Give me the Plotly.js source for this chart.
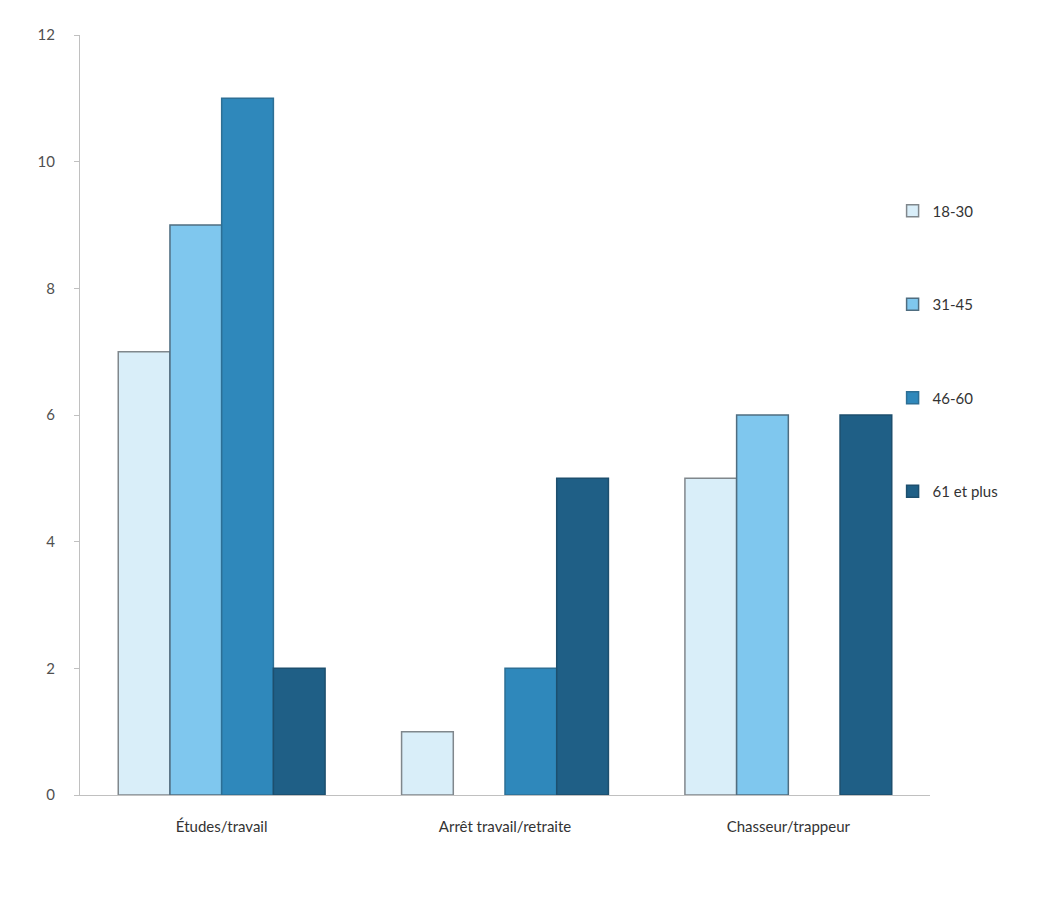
<!DOCTYPE html>
<html>
<head>
<meta charset="utf-8">
<script src="https://cdn.plot.ly/plotly-3.0.1.min.js"></script>
<style>html,body{margin:0;padding:0;background:#fff;}#chart{width:1038px;height:905px;}</style>
</head>
<body>
<div id="chart"></div>
<script>
const categories = ["Études/travail", "Arrêt travail/retraite", "Chasseur/trappeur"];
const seriesNames = ["18-30", "31-45", "46-60", "61 et plus"];
const v18_30 = [7, 1, 5];
const v31_45 = [9, 0, 6];
const v46_60 = [11, 2, 0];
const v61plus = [2, 5, 6];
const yTicks = [0, 2, 4, 6, 8, 10, 12];

const colors = ["#d9eef9", "#7fc7ee", "#2f88bb", "#1f5f86"];
const lineColors = ["#80878c", "#4f6d80", "#2d6f95", "#1d4f6e"];
const values = [v18_30, v31_45, v46_60, v61plus];

const traces = values.map((v, i) => ({
  type: "bar",
  name: seriesNames[i],
  x: categories,
  y: v,
  legendgroup: "g" + i,
  marker: {color: colors[i], line: {color: lineColors[i], width: v.map(d => d === 0 ? 0 : 1.5)}},
  hoverinfo: "x+y+name"
}));

const layout = {
  width: 1038, height: 905,
  margin: {l: 80, r: 108, t: 35, b: 110},
  paper_bgcolor: "#ffffff",
  plot_bgcolor: "#ffffff",
  font: {family: "Lato, 'Open Sans', sans-serif", size: 15, color: "#404040"},
  barmode: "group",
  bargap: 0.27,
  bargroupgap: 0,
  showlegend: true,
  legend: {
    x: 0.956, xanchor: "left", y: 0.79, yanchor: "top",
    bgcolor: "rgba(0,0,0,0)",
    tracegroupgap: 71,
    itemwidth: 30,
    font: {size: 15, color: "#333333"}
  },
  xaxis: {
    type: "category",
    showline: true, linecolor: "#c0c0c0", linewidth: 1,
    ticks: "", showgrid: false, zeroline: false,
    ticklabelstandoff: 18,
    tickfont: {size: 15, color: "#333333"}
  },
  yaxis: {
    range: [0, 12],
    tickvals: yTicks,
    showline: true, linecolor: "#c0c0c0", linewidth: 1,
    ticks: "outside", ticklen: 5, tickcolor: "#c0c0c0",
    ticklabelstandoff: 16,
    showgrid: false, zeroline: false,
    tickfont: {size: 15, color: "#505050"}
  }
};

Plotly.newPlot("chart", traces, layout, {displayModeBar: false, staticPlot: true});
</script>
</body>
</html>
